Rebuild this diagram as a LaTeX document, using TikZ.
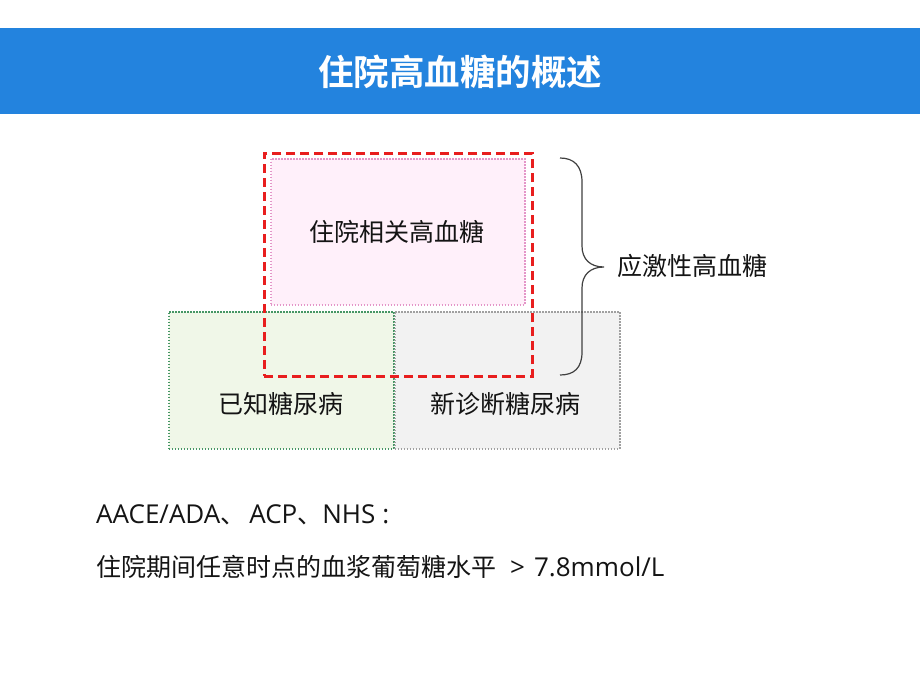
\documentclass[tikz,border=0pt]{standalone}
\usepackage{fontspec}
\setmainfont{Noto Sans CJK SC}
\newfontfamily\cjkbold{Noto Sans CJK SC Bold}
\newfontfamily\latfam{Open Sans}
\newcommand{\lat}{\latfam\fontsize{26}{30}\selectfont}
\definecolor{barblue}{RGB}{35,131,222}
\definecolor{pinkfill}{RGB}{255,240,250}
\definecolor{pinkline}{RGB}{228,150,200}
\definecolor{greenfill}{RGB}{240,247,232}
\definecolor{greenline}{RGB}{70,150,100}
\definecolor{grayfill}{RGB}{242,242,242}
\definecolor{grayline}{RGB}{160,160,160}
\definecolor{redline}{RGB}{232,30,30}
\definecolor{txt}{RGB}{20,20,20}
\tikzset{
  box/.style={draw, line width=1.5pt, dash pattern=on 1.5pt off 1.5pt, inner sep=0pt, anchor=north west},
  lbl/.style={text=txt, font=\fontsize{25}{30}\selectfont, inner sep=0pt},
}
\begin{document}
\begin{tikzpicture}[x=1pt,y=-1pt]
\useasboundingbox (0,0) rectangle (920,690);
\fill[white] (0,0) rectangle (920,690);
% title bar
\node[fill=barblue, minimum width=920pt, minimum height=86pt, inner sep=0pt, anchor=north west] (bar) at (0,28) {};
\node[text=white, font=\cjkbold\fontsize{35.5}{40}\selectfont, inner sep=0pt] (title) at (460,72) {住院高血糖的概述};
% boxes
\node[box, draw=greenline, fill=greenfill, minimum width=225pt, minimum height=137pt] (known) at (168,311) {};
\node[box, draw=grayline, fill=grayfill, minimum width=225pt, minimum height=137pt] (new) at (394,311) {};
\node[box, draw=pinkline, fill=pinkfill, minimum width=254pt, minimum height=146pt] (hosp) at (270,158) {};
\node[draw=redline, line width=2.6pt, dash pattern=on 9pt off 5pt, inner sep=0pt, anchor=north west, minimum width=268pt, minimum height=223pt] (stress) at (263,152) {};
% labels
\node[lbl] (hospt) at (397,232) {住院相关高血糖};
\node[lbl] (knownt) at (281,404) {已知糖尿病};
\node[lbl] (newt) at (505,404) {新诊断糖尿病};
\node[lbl, anchor=west] (stresst) at (617,266) {应激性高血糖};
% brace
\coordinate (bt) at (560,158);
\coordinate (bb) at (560,375);
\coordinate (tip) at (604,267);
\draw[line width=1.2pt, draw=black!75]
  (bt) .. controls (574,158) and (582,166) .. (582,182)
  -- (582,246) .. controls (582,259) and (590,267) .. (tip)
  (tip) .. controls (590,267) and (582,275) .. (582,288)
  -- (582,352) .. controls (582,368) and (574,375) .. (bb);
% bottom text
\node[lbl, anchor=west] (line1) at (96,515) {{\lat AACE/ADA}、\hspace{4pt}{\lat ACP}、{\lat NHS\hspace{7pt}:}};
\node[lbl, anchor=west] (line2) at (96,567) {住院期间任意时点的血浆葡萄糖水平{\lat\hspace{14pt}>\hspace{9pt}7.8mmol/L}};
\end{tikzpicture}
\end{document}
